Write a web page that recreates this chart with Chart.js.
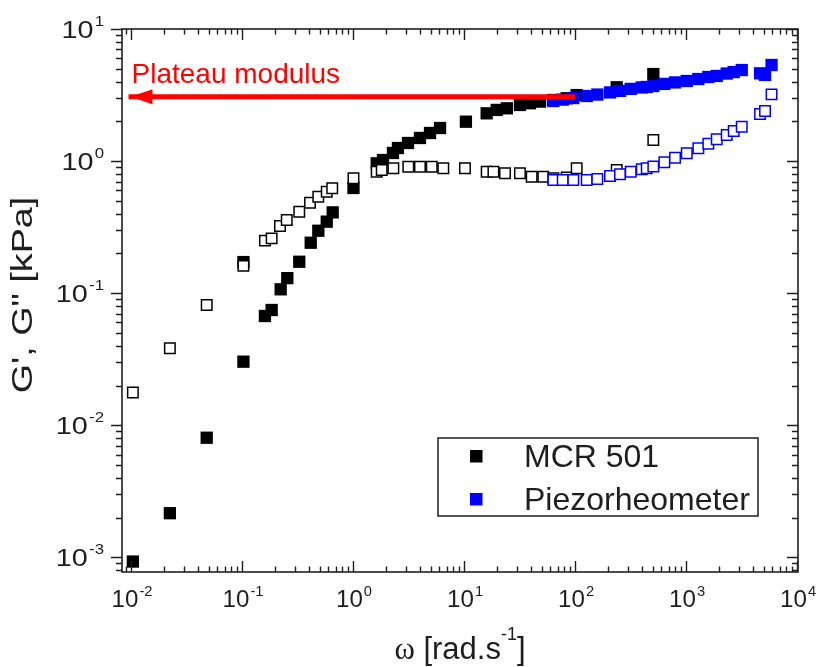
<!DOCTYPE html>
<html>
<head>
<meta charset="utf-8">
<script src="https://cdn.jsdelivr.net/npm/chart.js@4"></script>
<style>
  body { margin: 0; background: #fff; }
  canvas { display: block; }
</style>
</head>
<body>
<canvas id="chart-moduli" width="819" height="667"></canvas>
<script>
// MCR 501 - G' (filled black)
const mcrOmegaG1 = [0.0104, 0.0224, 0.0481, 0.103, 0.103, 0.161, 0.185, 0.223, 0.256, 0.328, 0.416, 0.487, 0.58, 0.656, 1.01, 1.635, 1.862, 2.29, 2.54, 3.13, 4.01, 4.94, 6.08, 10.4, 16.0, 19.7, 24.3, 31.9, 39.3, 48.4, 63.4, 84.1, 103.5, 237.5, 507.5];
const mcrG1 = [0.00093, 0.00216, 0.00805, 0.0303, 0.172, 0.0672, 0.0746, 0.107, 0.13, 0.173, 0.241, 0.297, 0.348, 0.409, 0.626, 0.962, 1.019, 1.152, 1.256, 1.371, 1.496, 1.632, 1.78, 1.987, 2.3, 2.44, 2.51, 2.66, 2.74, 2.82, 2.9, 2.99, 3.16, 3.62, 4.56];

// MCR 501 - G'' (open black)
const mcrOmegaG2 = [0.0104, 0.0224, 0.0481, 0.103, 0.161, 0.185, 0.22, 0.253, 0.328, 0.41, 0.487, 0.58, 0.65, 1.01, 1.635, 1.814, 2.31, 3.15, 4.01, 5.12, 6.51, 10.2, 16.0, 18.4, 23.4, 31.9, 40.7, 51.8, 63.8, 84.1, 103.5, 237.5, 507.5];
const mcrG2 = [0.0177, 0.0383, 0.0815, 0.161, 0.25, 0.26, 0.323, 0.358, 0.414, 0.484, 0.537, 0.587, 0.622, 0.741, 0.832, 0.856, 0.882, 0.907, 0.907, 0.907, 0.882, 0.882, 0.832, 0.832, 0.809, 0.809, 0.762, 0.762, 0.741, 0.75, 0.882, 0.856, 1.445];

// Piezorheometer (blue)
const piezoOmega = [63.8, 77.5, 96.5, 127.5, 158.8, 206.7, 254.3, 317.6, 399, 442.5, 507.5, 637.8, 796, 1015, 1291, 1588, 1891, 2326, 2690, 3176, 4642, 5148, 5892];
const piezoG1 = [2.85, 2.92, 3.0, 3.11, 3.19, 3.31, 3.4, 3.52, 3.61, 3.64, 3.7, 3.84, 3.94, 4.04, 4.18, 4.33, 4.41, 4.6, 4.72, 4.89, 4.62, 4.49, 5.34];
const piezoG2 = [0.719, 0.719, 0.719, 0.719, 0.732, 0.771, 0.794, 0.832, 0.867, 0.882, 0.91, 0.979, 1.061, 1.146, 1.25, 1.354, 1.462, 1.576, 1.689, 1.821, 2.272, 2.395, 3.2];

// plateau arrow (from 10^2 back to the axis)
const plateauOmega = [100, 0.0095];
const plateauG = [3.07, 3.07];
const plateauText = "Plateau modulus";

const legendLabels = ["MCR 501", "Piezorheometer"];
const xTickExps = [-2, -1, 0, 1, 2, 3, 4];
const yTickExps = [-3, -2, -1, 0, 1];

const SANS = '"Liberation Sans", Arial, sans-serif';
const SERIF = '"Liberation Serif", "Times New Roman", serif';
const INK = "#1e1e1e";
const BLACK = "#000000";
const BLUE = "#0000ff";
const RED = "#ff0000";

function toPoints(xs, ys) {
  return xs.map((x, i) => ({ x: x, y: ys[i] }));
}

function eachLogTick(min, max, fn) {
  const k0 = Math.floor(Math.log10(min)), k1 = Math.ceil(Math.log10(max));
  for (let k = k0; k <= k1; k++) {
    for (let m = 1; m <= 9; m++) {
      const v = m * Math.pow(10, k);
      if (v >= min * 0.999 && v <= max * 1.001) fn(v, m === 1);
    }
  }
}

// "10" with a raised exponent
function drawPow(ctx, exp, x, y, align, size, stretch) {
  const supSize = Math.round(size * 0.6);
  ctx.font = `${size}px ${SANS}`;
  const wb = ctx.measureText("10").width;
  ctx.font = `${supSize}px ${SANS}`;
  const ws = ctx.measureText(String(exp)).width;
  const total = (wb + 1 + ws) * stretch;
  const left = align === "center" ? x - total / 2 : x - total;
  ctx.save();
  ctx.translate(left, y);
  ctx.scale(stretch, 1);
  ctx.textAlign = "left";
  ctx.textBaseline = "alphabetic";
  ctx.font = `${size}px ${SANS}`;
  ctx.fillText("10", 0, 0);
  ctx.font = `${supSize}px ${SANS}`;
  ctx.fillText(String(exp), wb + 1, -size * 0.5);
  ctx.restore();
}

const frameAndText = {
  id: "frameAndText",
  afterDatasetsDraw(chart) {
    const { ctx, chartArea: a, scales } = chart;
    const xs = scales.x, ys = scales.y;
    ctx.save();

    // arrow head + label
    const tx = xs.getPixelForValue(plateauOmega[1]);
    const ty = ys.getPixelForValue(plateauG[1]);
    ctx.fillStyle = RED;
    ctx.beginPath();
    ctx.moveTo(tx, ty);
    ctx.quadraticCurveTo(tx + 12, ty - 3, tx + 24, ty - 7.5);
    ctx.lineTo(tx + 24, ty + 7.5);
    ctx.quadraticCurveTo(tx + 12, ty + 3, tx, ty);
    ctx.fill();
    ctx.font = `28px ${SANS}`;
    ctx.textAlign = "left";
    ctx.textBaseline = "alphabetic";
    ctx.fillText(plateauText, tx + 3, ty - 14);

    // frame
    ctx.strokeStyle = INK;
    ctx.lineWidth = 1.6;
    ctx.strokeRect(a.left, a.top, a.right - a.left, a.bottom - a.top);

    // ticks: x inside, left y outside, right y inside
    ctx.lineWidth = 1.4;
    ctx.beginPath();
    eachLogTick(xs.min, xs.max, (v, major) => {
      const px = Math.round(xs.getPixelForValue(v)) + 0.5;
      const len = major ? 11 : 5.5;
      ctx.moveTo(px, a.bottom); ctx.lineTo(px, a.bottom - len);
      ctx.moveTo(px, a.top); ctx.lineTo(px, a.top + len);
    });
    eachLogTick(ys.min, ys.max, (v, major) => {
      const py = Math.round(ys.getPixelForValue(v)) + 0.5;
      const len = major ? 11 : 6;
      ctx.moveTo(a.left, py); ctx.lineTo(a.left - len, py);
      ctx.moveTo(a.right, py); ctx.lineTo(a.right - len, py);
    });
    ctx.stroke();

    // tick labels
    ctx.fillStyle = INK;
    xTickExps.forEach((e) => {
      drawPow(ctx, e, xs.getPixelForValue(Math.pow(10, e)) + 1, a.bottom + 35, "center", 23, 1.05);
    });
    yTickExps.forEach((e) => {
      drawPow(ctx, e, a.left - 18, ys.getPixelForValue(Math.pow(10, e)) + 9, "right", 24, 1.2);
    });

    // x title: ω [rad.s^-1]
    const xt = ["ω", " [rad.s", "-1", "]"];
    const fonts = [`31px ${SERIF}`, `31px ${SANS}`, `18px ${SANS}`, `31px ${SANS}`];
    const widths = xt.map((t, i) => { ctx.font = fonts[i]; return ctx.measureText(t).width; });
    let cx = (a.left + a.right) / 2 - widths.reduce((s, w) => s + w, 0) / 2;
    const base = a.bottom + 87;
    xt.forEach((t, i) => {
      ctx.font = fonts[i];
      ctx.fillText(t, cx, i === 2 ? base - 19 : base);
      cx += widths[i];
    });

    // y title
    ctx.save();
    ctx.translate(32, a.top + 266);
    ctx.rotate(-Math.PI / 2);
    ctx.scale(1.3, 1);
    ctx.textAlign = "center";
    ctx.font = `29px ${SANS}`;
    ctx.fillText("G', G\" [kPa]", 0, 0);
    ctx.restore();

    // legend
    const lx = a.right - 360, ly = a.bottom - 134;
    ctx.fillStyle = "#fff";
    ctx.fillRect(lx, ly, 320, 78);
    ctx.strokeStyle = INK;
    ctx.lineWidth = 1.5;
    ctx.strokeRect(lx, ly, 320, 78);
    const legendColors = [BLACK, BLUE];
    legendLabels.forEach((label, i) => {
      const my = ly + 18 + i * 43;
      ctx.fillStyle = legendColors[i];
      ctx.fillRect(lx + 32, my - 6, 12.5, 12.5);
      ctx.fillStyle = INK;
      ctx.font = `32px ${SANS}`;
      ctx.textAlign = "left";
      ctx.fillText(label, lx + 86, my + 11);
    });

    ctx.restore();
  },
};

const filled = (color) => ({
  pointStyle: "rect",
  pointRadius: 8.7,
  backgroundColor: color,
  borderColor: color,
  borderWidth: 0,
});
const open = (color) => ({
  pointStyle: "rect",
  pointRadius: 7.4,
  backgroundColor: "#ffffff",
  borderColor: color,
  borderWidth: 1.5,
});

const config = {
  type: "scatter",
  data: {
    datasets: [
      { label: "plateau", data: toPoints(plateauOmega, plateauG), showLine: true, borderColor: RED, borderWidth: 5, pointRadius: 0, order: 0 },
      { label: "Piezo G''", data: toPoints(piezoOmega, piezoG2), ...open(BLUE), order: 1 },
      { label: "MCR G''", data: toPoints(mcrOmegaG2, mcrG2), ...open(BLACK), order: 2 },
      { label: "Piezo G'", data: toPoints(piezoOmega, piezoG1), ...filled(BLUE), order: 3 },
      { label: "MCR G'", data: toPoints(mcrOmegaG1, mcrG1), ...filled(BLACK), order: 4 },
    ],
  },
  options: {
    responsive: false,
    animation: false,
    devicePixelRatio: 1,
    events: [],
    layout: { padding: { left: 122, right: 21, top: 29, bottom: 95 } },
    scales: {
      x: { type: "logarithmic", min: 0.0083, max: 10200, display: false },
      y: { type: "logarithmic", min: 0.000775, max: 10, display: false },
    },
    plugins: {
      legend: { display: false },
      tooltip: { enabled: false },
    },
  },
  plugins: [frameAndText],
};

const ctx = document.getElementById("chart-moduli");
let chart = new Chart(ctx, config);
</script>
</body>
</html>
